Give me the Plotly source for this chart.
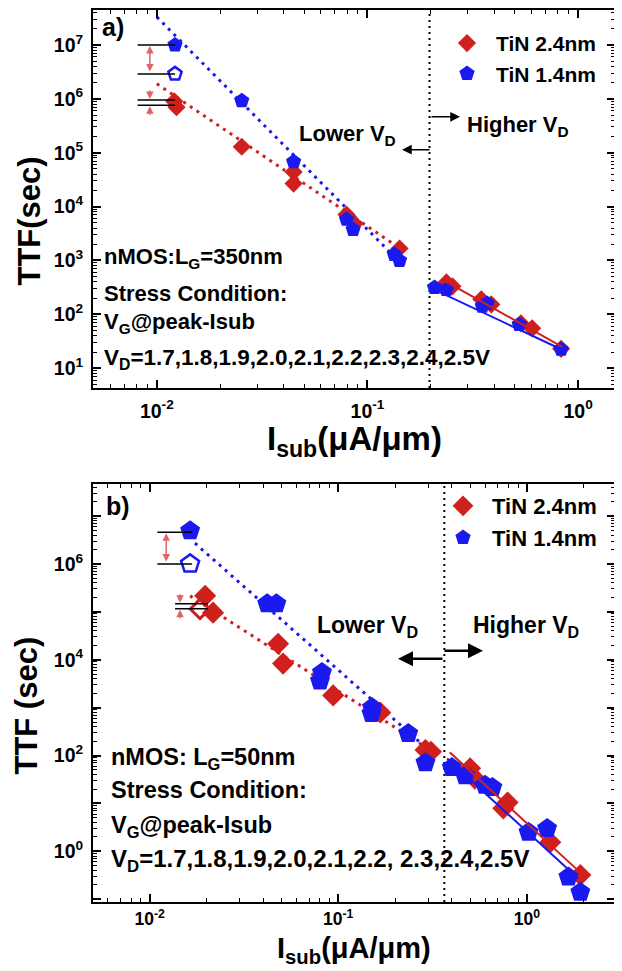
import numpy as np
import plotly.graph_objects as go

# page body has an 8px margin: the figure is placed at (8, 8) in the window
OFF = 8
W, H = 622 - OFF, 971 - OFF
RED = "#d0201e"
BLUE = "#1a1af0"
FONT = "Liberation Sans, Arial, sans-serif"

# ---------------- Panel a) nMOS L_G = 350 nm ----------------
a_red_x = [0.0121, 0.0124, 0.0253, 0.0446, 0.0446, 0.0795, 0.0867, 0.142,
           0.237, 0.253, 0.347, 0.387, 0.535, 0.605, 0.83]
a_red_y = [9.0e5, 7.0e5, 1.29e5, 4.4e4, 2.67e4, 7.1e3, 4.8e3, 1.67e3,
           392, 331, 190, 153, 68, 55, 23]
a_blue_x = [0.0122, 0.0253, 0.0446, 0.0795, 0.0855, 0.134, 0.142,
            0.208, 0.237, 0.351, 0.37, 0.525, 0.83]
a_blue_y = [1.0e7, 9.2e5, 6.8e4, 5.8e3, 3.75e3, 1.29e3, 1.0e3,
            316, 290, 141, 160, 65, 22.4]
a_blue_open_x = [0.0122]
a_blue_open_y = [2.9e6]
# fitted lines (end points)
a_red_dot_x, a_red_dot_y = [0.0100, 0.142], [1.9e6, 1.7e3]
a_blue_dot_x, a_blue_dot_y = [0.0100, 0.135], [3.3e7, 1.15e3]
a_red_fit_x, a_red_fit_y = [0.226, 0.84], [445, 25]
a_blue_fit_x, a_blue_fit_y = [0.197, 0.87], [316, 20.7]
a_boundary = 0.197
a_ref_x = [0.0081, 0.0122]
a_ref_levels = [1.0e7, 2.9e6, 9.5e5, 7.6e5]
a_arrow_x = 0.00927

# ---------------- Panel b) nMOS L_G = 50 nm ----------------
b_red_x = [0.0197, 0.0217, 0.048, 0.051, 0.094, 0.167, 0.29, 0.31,
           0.50, 0.53, 0.79, 0.75, 1.33, 1.92]
b_red_y = [2.15e5, 9.6e4, 2.15e4, 8.3e3, 1.8e3, 790, 130, 120,
           54, 33, 10.5, 7.9, 1.55, 0.32]
b_red_open_x = [0.0185]
b_red_open_y = [1.15e5]
b_blue_x = [0.0164, 0.042, 0.047, 0.082, 0.080, 0.151, 0.150, 0.235, 0.29,
            0.40, 0.47, 0.656, 0.60, 1.02, 1.28, 1.66, 1.92]
b_blue_y = [4.9e6, 1.47e5, 1.47e5, 5.4e3, 3.6e3, 1.0e3, 750, 287, 71,
            56, 38, 21.5, 24, 2.5, 3.0, 0.29, 0.14]
b_blue_open_x = [0.0164]
b_blue_open_y = [1.0e6]
b_red_dot_x, b_red_dot_y = [0.0164, 0.335], [2.15e5, 105]
b_blue_dot_x, b_blue_dot_y = [0.0174, 0.315], [2.7e6, 112]
b_red_fit_x, b_red_fit_y = [0.39, 1.92], [117, 0.36]
b_blue_fit_x, b_blue_fit_y = [0.378, 1.87], [87, 0.27]
b_boundary = 0.365
b_ref_top_x = [0.0110, 0.0168]
b_ref_top_levels = [4.6e6, 1.0e6]
b_ref_bot_x = [0.01365, 0.0204]
b_ref_bot_levels = [1.47e5, 1.16e5]
b_arrow_top_x = 0.01225
b_arrow_bot_x = 0.0145

# axis ranges (log10)
a_xrange, a_yrange = [-2.303, 0.175], [0.63, 7.648]
b_xrange, b_yrange = [-2.30, 0.467], [-1.06, 7.667]

fig = go.Figure()


def add_panel(xa, ya, legend, msize_d, msize_p,
              red_x, red_y, blue_x, blue_y, blue_open_x, blue_open_y,
              rdx, rdy, bdx, bdy, rfx, rfy, bfx, bfy, boundary, yrange,
              red_open_x=None, red_open_y=None):
    kw = dict(xaxis=xa, yaxis=ya)
    fig.add_trace(go.Scatter(x=[boundary, boundary], y=[10 ** (yrange[0] - 1), 10 ** (yrange[1] + 1)],
                             mode="lines", line=dict(color="black", width=2, dash="2px,4px"),
                             showlegend=False, hoverinfo="skip", **kw))
    fig.add_trace(go.Scatter(x=rdx, y=rdy, mode="lines",
                             line=dict(color=RED, width=3, dash="3px,5px"),
                             showlegend=False, **kw))
    fig.add_trace(go.Scatter(x=bdx, y=bdy, mode="lines",
                             line=dict(color=BLUE, width=3, dash="3px,5px"),
                             showlegend=False, **kw))
    fig.add_trace(go.Scatter(x=red_x, y=red_y, mode="markers", name="TiN 2.4nm",
                             marker=dict(symbol="diamond", size=msize_d, color=RED, line=dict(width=0)),
                             legend=legend, **kw))
    if red_open_x is not None:
        fig.add_trace(go.Scatter(x=red_open_x, y=red_open_y, mode="markers",
                                 marker=dict(symbol="diamond-open", size=msize_d - 2, color=RED,
                                             line=dict(width=3, color=RED)),
                                 showlegend=False, **kw))
    fig.add_trace(go.Scatter(x=blue_x, y=blue_y, mode="markers", name="TiN 1.4nm",
                             marker=dict(symbol="pentagon", size=msize_p, color=BLUE, line=dict(width=0)),
                             legend=legend, **kw))
    fig.add_trace(go.Scatter(x=blue_open_x, y=blue_open_y, mode="markers",
                             marker=dict(symbol="pentagon-open", size=msize_p - 2, color=BLUE,
                                         line=dict(width=2.5, color=BLUE)),
                             showlegend=False, **kw))
    fig.add_trace(go.Scatter(x=rfx, y=rfy, mode="lines", line=dict(color=RED, width=2),
                             showlegend=False, **kw))
    fig.add_trace(go.Scatter(x=bfx, y=bfy, mode="lines", line=dict(color=BLUE, width=2),
                             showlegend=False, **kw))


add_panel("x", "y", "legend", 14, 16,
          a_red_x, a_red_y, a_blue_x, a_blue_y, a_blue_open_x, a_blue_open_y,
          a_red_dot_x, a_red_dot_y, a_blue_dot_x, a_blue_dot_y,
          a_red_fit_x, a_red_fit_y, a_blue_fit_x, a_blue_fit_y, a_boundary, a_yrange)
add_panel("x2", "y2", "legend2", 17, 21,
          b_red_x, b_red_y, b_blue_x, b_blue_y, b_blue_open_x, b_blue_open_y,
          b_red_dot_x, b_red_dot_y, b_blue_dot_x, b_blue_dot_y,
          b_red_fit_x, b_red_fit_y, b_blue_fit_x, b_blue_fit_y, b_boundary, b_yrange,
          b_red_open_x, b_red_open_y)

for lvl in a_ref_levels:
    fig.add_trace(go.Scatter(x=a_ref_x, y=[lvl, lvl], mode="lines", line=dict(color="black", width=1.5),
                             showlegend=False, xaxis="x", yaxis="y"))
for lvl in b_ref_top_levels:
    fig.add_trace(go.Scatter(x=b_ref_top_x, y=[lvl, lvl], mode="lines", line=dict(color="black", width=1.5),
                             showlegend=False, xaxis="x2", yaxis="y2"))
for lvl in b_ref_bot_levels:
    fig.add_trace(go.Scatter(x=b_ref_bot_x, y=[lvl, lvl], mode="lines", line=dict(color="black", width=1.5),
                             showlegend=False, xaxis="x2", yaxis="y2"))


def px(x):
    return (x - OFF) / W


def py(y):
    return min(1.0, 1 - (y - OFF) / H)


def log_ticks(lo, hi, step=1):
    vals, texts = [], []
    for e in range(int(np.floor(lo)), int(np.ceil(hi)) + 1):
        vals.append(10.0 ** e)
        texts.append("<b>10<sup>%d</sup></b>" % e if (e % step == 0) else "")
    minor = [m * 10.0 ** e for e in range(int(np.floor(lo)) - 1, int(np.ceil(hi)) + 1) for m in range(2, 10)]
    return vals, texts, minor


def axis(rng, domain, anchor, step=1, standoff=4, fsize=19.5):
    v, t, m = log_ticks(rng[0], rng[1], step)
    return dict(type="log", range=rng, domain=domain, anchor=anchor,
                tickmode="array", tickvals=v, ticktext=t,
                ticks="inside", ticklen=8, tickwidth=1.5, tickcolor="black",
                minor=dict(tickmode="array", tickvals=m, ticks="inside", ticklen=4,
                           tickwidth=1, tickcolor="black", showgrid=False),
                showline=True, linecolor="black", linewidth=2, mirror="allticks",
                showgrid=False, zeroline=False,
                tickfont=dict(family=FONT, size=fsize, color="black"),
                ticklabelstandoff=standoff)


xd = [px(93), px(615)]
fig.update_layout(
    width=W, height=H, margin=dict(l=0, r=0, t=0, b=0),
    paper_bgcolor="white", plot_bgcolor="white",
    font=dict(family=FONT, color="black"),
    xaxis=axis(a_xrange, xd, "y"),
    yaxis=axis(a_yrange, [py(387), py(8)], "x"),
    xaxis2=axis(b_xrange, xd, "y2", standoff=0, fsize=17.5),
    yaxis2=axis(b_yrange, [py(902), py(483)], "x2", step=2),
    legend=dict(x=px(438), y=py(21), xanchor="left", yanchor="top", itemwidth=48,
                font=dict(family=FONT, size=21, color="black", weight="bold"),
                bgcolor="rgba(0,0,0,0)", tracegroupgap=0),
    legend2=dict(x=px(434), y=py(484), xanchor="left", yanchor="top", itemwidth=48,
                 font=dict(family=FONT, size=22, color="black", weight="bold"),
                 bgcolor="rgba(0,0,0,0)"),
)

ann = []


def text(x, y, s, size, anchor="left"):
    ann.append(dict(x=px(x), y=py(y), xref="paper", yref="paper", text="<b>%s</b>" % s,
                    showarrow=False, xanchor=anchor, yanchor="middle",
                    font=dict(family=FONT, size=size, color="black")))


# panel a texts
text(100, 25, "a)", 25)
text(102, 257, "nMOS:L<sub>G</sub>=350nm", 22)
text(102, 292, "Stress Condition:", 22)
text(102, 322, "V<sub>G</sub>@peak-Isub", 22)
text(102, 358, "V<sub>D</sub>=1.7,1.8,1.9,2.0,2.1,2.2,2.3,2.4,2.5V", 22.5)
text(297, 133, "Lower V<sub>D</sub>", 22)
text(465, 124, "Higher V<sub>D</sub>", 22)
# panel b texts
text(104, 505, "b)", 25)
text(109, 758, "nMOS: L<sub>G</sub>=50nm", 23.5)
text(109, 790, "Stress Condition:", 23.5)
text(109, 826, "V<sub>G</sub>@peak-Isub", 23.5)
text(109, 860, "V<sub>D</sub>=1.7,1.8,1.9,2.0,2.1,2.2, 2.3,2.4,2.5V", 24)
text(315, 626, "Lower V<sub>D</sub>", 23)
text(471, 626, "Higher V<sub>D</sub>", 23)

# axis titles
for (x, y, s) in [(30, 220, "TTF(sec)"), (27, 705, "TTF (sec)")]:
    ann.append(dict(x=px(x), y=py(y), xref="paper", yref="paper", text="<b>%s</b>" % s,
                    showarrow=False, textangle=-90, xanchor="center", yanchor="middle",
                    font=dict(family=FONT, size=31, color="black")))
for (y, sz) in [(440, 33), (950, 29)]:
    ann.append(dict(x=px(354), y=py(y), xref="paper", yref="paper",
                    text="<b>I<sub>sub</sub>(μA/μm)</b>", borderpad=0,
                    showarrow=False, xanchor="center", yanchor="middle",
                    font=dict(family=FONT, size=sz, color="black")))


def black_arrow(tipx, tipy, dx, width, size):
    ann.append(dict(x=px(tipx), y=py(tipy), xref="paper", yref="paper", text="",
                    showarrow=True, ax=dx, ay=0, arrowhead=2, arrowwidth=width,
                    arrowsize=size, arrowcolor="black", standoff=0, startstandoff=0))


black_arrow(402, 148, 29, 1.5, 1.3)
black_arrow(460, 115, -30, 1.5, 1.3)
black_arrow(398, 658, 46, 2.5, 1.2)
black_arrow(483, 650, -40, 2.5, 1.2)

ARC = "#e06464"


def double_arrow(xr, yr, x, y0, y1):
    ann.append(dict(x=np.log10(x), y=np.log10(y0), ax=np.log10(x), ay=np.log10(y1),
                    xref=xr, yref=yr, axref=xr, ayref=yr,
                    text="", showarrow=True, arrowhead=2, startarrowhead=2, arrowside="end+start",
                    arrowwidth=1.5, arrowsize=1, startarrowsize=1, arrowcolor=ARC,
                    standoff=1, startstandoff=1))


def small_arrow(xr, yr, x, y, dy):
    ann.append(dict(x=np.log10(x), y=np.log10(y), xref=xr, yref=yr,
                    text="", showarrow=True, ax=0, ay=dy, arrowhead=2, arrowwidth=1.5,
                    arrowsize=1, arrowcolor=ARC, standoff=1))


double_arrow("x", "y", a_arrow_x, a_ref_levels[0], a_ref_levels[1])
small_arrow("x", "y", a_arrow_x, a_ref_levels[2], -11)
small_arrow("x", "y", a_arrow_x, a_ref_levels[3], 11)
double_arrow("x2", "y2", b_arrow_top_x, b_ref_top_levels[0], b_ref_top_levels[1])
small_arrow("x2", "y2", b_arrow_bot_x, b_ref_bot_levels[0], -11)
small_arrow("x2", "y2", b_arrow_bot_x, b_ref_bot_levels[1], 11)

fig.update_layout(annotations=ann)
fig.write_html("out.html")
